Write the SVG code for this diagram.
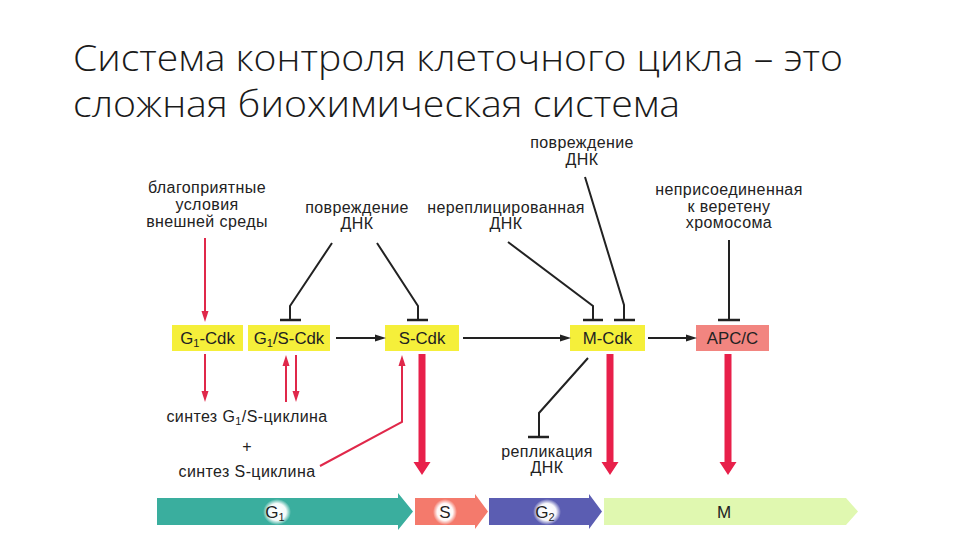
<svg xmlns="http://www.w3.org/2000/svg" width="960" height="540" viewBox="0 0 960 540">
<style>
.title{font-family:"Open Sans","Liberation Sans",sans-serif;font-weight:300;font-size:37px;fill:#1a1a1a}
.lbl{font-family:"Liberation Sans",Arial,sans-serif;font-size:16px;letter-spacing:0.4px;fill:#222;text-anchor:middle}
.box{font-family:"Liberation Sans",Arial,sans-serif;font-size:16.8px;fill:#222;text-anchor:middle}
.sub{font-size:11px}
.blk{stroke:#222;stroke-width:2;fill:none}
.bar{stroke:#222;stroke-width:2.5;fill:none}
.red{stroke:#e0284a;stroke-width:2;fill:none}
.thick{fill:#e8204a}
.yel{fill:#f5ef3a}
.apc{fill:#f28580}
.ph{font-family:"Liberation Sans",Arial,sans-serif;font-size:17px;fill:#222;text-anchor:middle}
</style>
<defs>
<marker id="ab" markerUnits="userSpaceOnUse" markerWidth="12" markerHeight="8" refX="7" refY="4" orient="auto"><path d="M0,0.5 L11,4 L0,7.5 z" fill="#222"/></marker>
<marker id="ar" markerUnits="userSpaceOnUse" markerWidth="12" markerHeight="8" refX="7" refY="4" orient="auto"><path d="M0,0.5 L11,4 L0,7.5 z" fill="#e0284a"/></marker>
<radialGradient id="halo"><stop offset="0" stop-color="#fff" stop-opacity="1"/><stop offset="0.65" stop-color="#fff" stop-opacity="0.95"/><stop offset="1" stop-color="#fff" stop-opacity="0"/></radialGradient>
</defs>
<rect width="960" height="540" fill="#fff"/>
<g id="title">
<text class="title" x="73" y="71" textLength="770" lengthAdjust="spacingAndGlyphs">Система контроля клеточного цикла – это</text>
<text class="title" x="73" y="117" textLength="607" lengthAdjust="spacingAndGlyphs">сложная биохимическая система</text>
</g>
<g id="labels">
<text class="lbl" x="207" y="193">благоприятные</text>
<text class="lbl" x="207" y="210">условия</text>
<text class="lbl" x="207" y="227">внешней среды</text>
<text class="lbl" x="357" y="213">повреждение</text>
<text class="lbl" x="357" y="229">ДНК</text>
<text class="lbl" x="506" y="213">нереплицированная</text>
<text class="lbl" x="506" y="229">ДНК</text>
<text class="lbl" x="582" y="148">повреждение</text>
<text class="lbl" x="582" y="165">ДНК</text>
<text class="lbl" x="729" y="195">неприсоединенная</text>
<text class="lbl" x="729" y="212">к веретену</text>
<text class="lbl" x="729" y="228">хромосома</text>
<text class="lbl" x="247" y="422">синтез G<tspan class="sub" dy="3">1</tspan><tspan dy="-3">/S-циклина</tspan></text>
<text class="lbl" x="247" y="452">+</text>
<text class="lbl" x="247" y="477">синтез S-циклина</text>
<text class="lbl" x="547" y="457">репликация</text>
<text class="lbl" x="547" y="473">ДНК</text>
</g>
<g id="node-g1cdk"><rect class="yel" x="172" y="325" width="71" height="26"/><text class="box" x="207.5" y="344">G<tspan class="sub" dy="3">1</tspan><tspan dy="-3">-Cdk</tspan></text></g>
<g id="node-g1scdk"><rect class="yel" x="248" y="325" width="82" height="26"/><text class="box" x="289" y="344">G<tspan class="sub" dy="3">1</tspan><tspan dy="-3">/S-Cdk</tspan></text></g>
<g id="node-scdk"><rect class="yel" x="385" y="325" width="74" height="26"/><text class="box" x="422" y="344">S-Cdk</text></g>
<g id="node-mcdk"><rect class="yel" x="570" y="325" width="75" height="26"/><text class="box" x="607.5" y="344">M-Cdk</text></g>
<g id="node-apcc"><rect class="apc" x="696" y="325" width="73" height="26"/><text class="box" x="732.5" y="344">APC/C</text></g>
<g id="connectors">
<line class="blk" x1="336" y1="338" x2="382" y2="338" marker-end="url(#ab)"/>
<line class="blk" x1="463" y1="338" x2="567" y2="338" marker-end="url(#ab)"/>
<line class="blk" x1="648" y1="338" x2="693" y2="338" marker-end="url(#ab)"/>
<polyline class="blk" points="332,243 290,306 290,320"/>
<line class="bar" x1="280" y1="320" x2="301" y2="320"/>
<polyline class="blk" points="377,243 418,306 418,320"/>
<line class="bar" x1="407" y1="320" x2="428" y2="320"/>
<polyline class="blk" points="508,242 593,306 593,320"/>
<line class="bar" x1="583" y1="320" x2="603" y2="320"/>
<polyline class="blk" points="585,177 624,305 624,320"/>
<line class="bar" x1="614" y1="320" x2="635" y2="320"/>
<line class="blk" x1="729" y1="240" x2="729" y2="320"/>
<line class="bar" x1="718" y1="320" x2="740" y2="320"/>
<polyline class="blk" points="588,358 539,413 539,437"/>
<line class="bar" x1="528" y1="437" x2="549" y2="437"/>
<line class="red" x1="205" y1="238" x2="205" y2="318" marker-end="url(#ar)"/>
<line class="red" x1="205" y1="354" x2="205" y2="398" marker-end="url(#ar)"/>
<line class="red" x1="286" y1="402" x2="286" y2="359" marker-end="url(#ar)"/>
<line class="red" x1="296" y1="355" x2="296" y2="398" marker-end="url(#ar)"/>
<polyline class="red" points="320,466 402,422 402,359" marker-end="url(#ar)"/>
<path class="thick" d="M418.5,354 h7 v108 h5 l-8.5,13 l-8.5,-13 h5 z"/>
<path class="thick" d="M606.5,354 h7 v108 h5 l-8.5,13 l-8.5,-13 h5 z"/>
<path class="thick" d="M724.5,354 h7 v108 h5 l-8.5,13 l-8.5,-13 h5 z"/>
</g>
<g id="phases">
<path d="M157,498 H398 V493 L413,511.5 L398,530 V525 H157 z" fill="#3aae9e"/>
<path d="M415,498 H475 V494 L488,511.5 L475,529 V525 H415 z" fill="#f47a6c"/>
<path d="M489,498 H589 V494 L602,511.5 L589,529 V525 H489 z" fill="#5b5db2"/>
<path d="M604,498 H846 L858,511.5 L846,525 H604 z" fill="#e0f8b0"/>
<ellipse cx="277" cy="512" rx="14" ry="13" fill="url(#halo)"/>
<ellipse cx="445" cy="512" rx="12" ry="13" fill="url(#halo)"/>
<ellipse cx="547" cy="512" rx="14" ry="13" fill="url(#halo)"/>
<text class="ph" x="275" y="518">G<tspan class="sub" dy="3">1</tspan></text>
<text class="ph" x="445" y="518">S</text>
<text class="ph" x="545" y="518">G<tspan class="sub" dy="3">2</tspan></text>
<text class="ph" x="724" y="518">M</text>
</g>
</svg>
